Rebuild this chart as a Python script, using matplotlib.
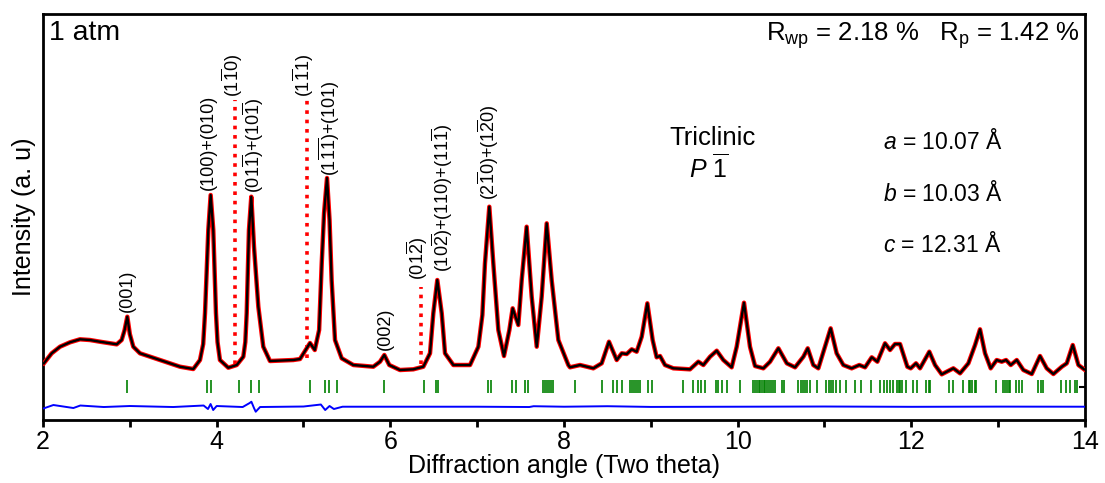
import matplotlib
matplotlib.use("Agg")
import matplotlib.pyplot as plt

plt.rcParams['font.family'] = ['Liberation Sans', 'DejaVu Sans']
plt.rcParams['mathtext.fontset'] = 'custom'
plt.rcParams['mathtext.rm'] = 'Liberation Sans'
plt.rcParams['mathtext.it'] = 'Liberation Sans:italic'
plt.rcParams['mathtext.bf'] = 'Liberation Sans:bold'

# observed / calculated profile (two theta, intensity a.u.)
two_theta = [2.01, 2.10, 2.196, 2.311, 2.426, 2.541, 2.656, 2.849, 2.906, 2.94, 2.971,
             3.0, 3.04, 3.117, 3.347, 3.578, 3.731, 3.808, 3.845, 3.866, 3.904, 3.931, 3.961,
             3.992, 4.01, 4.038, 4.134, 4.231, 4.307, 4.33, 4.346, 4.372, 4.399, 4.430, 4.480,
             4.537, 4.614, 4.883, 4.96, 5.075, 5.13, 5.18, 5.21, 5.237, 5.271, 5.30, 5.324,
             5.363, 5.44, 5.574, 5.804, 5.881, 5.931, 5.988, 6.111, 6.265, 6.38,
             6.457, 6.495, 6.541, 6.592, 6.63, 6.726, 6.918, 7.014, 7.06, 7.09, 7.14,
             7.186, 7.244, 7.309, 7.371, 7.409, 7.474, 7.513, 7.57, 7.628, 7.686,
             7.743, 7.801, 7.858, 7.935, 8.05, 8.069, 8.185, 8.338, 8.434, 8.518,
             8.607, 8.665, 8.722, 8.78, 8.837, 8.895, 8.96, 9.021, 9.067, 9.106,
             9.163, 9.259, 9.451, 9.547, 9.605, 9.682, 9.759, 9.835, 9.931, 9.989,
             10.073, 10.142, 10.2, 10.296, 10.373, 10.469, 10.566, 10.661, 10.757, 10.807,
             10.871, 10.929, 11.006, 11.071, 11.14, 11.217, 11.313, 11.401, 11.467, 11.544,
             11.609, 11.697, 11.755, 11.812, 11.87, 11.954, 11.993, 12.054, 12.1, 12.207,
             12.273, 12.35, 12.484, 12.561, 12.657, 12.734, 12.791, 12.849, 12.914, 12.983,
             13.041, 13.091, 13.145, 13.214, 13.29, 13.387, 13.482, 13.559, 13.636, 13.733,
             13.79, 13.859, 13.924, 13.99]
intensity = [36.7, 46.7, 53.3, 57.7, 60.7, 60.0, 58.3, 55.7, 60.0, 70.0, 83.3,
             66.0, 53.3, 46.7, 40.0, 33.3, 31.0, 40.0, 56.0, 87.0, 170.0, 205.0, 170.0,
             87.0, 58.0, 40.0, 32.3, 35.0, 43.3, 58.0, 87.0, 170.0, 203.3, 153.3, 93.3,
             53.3, 39.0, 40.0, 41.0, 57.0, 50.0, 70.0, 136.7, 187.0, 222.0, 180.0, 120.0,
             60.0, 41.7, 35.0, 33.3, 38.3, 45.0, 35.0, 30.0, 30.7, 33.3,
             46.7, 86.7, 120.0, 86.7, 46.7, 35.0, 35.0, 53.3, 85.0, 136.7, 193.3,
             136.7, 70.0, 44.0, 70.0, 91.7, 75.0, 120.0, 173.3, 103.3, 53.3,
             103.3, 176.7, 120.0, 60.0, 35.0, 32.7, 35.0, 31.7, 36.7, 58.3,
             40.0, 46.7, 46.0, 50.7, 48.3, 63.3, 96.7, 60.0, 42.7, 44.0,
             35.0, 31.7, 30.7, 38.3, 35.0, 43.3, 49.3, 40.0, 32.7, 53.3,
             97.3, 53.3, 34.0, 31.7, 38.3, 51.7, 36.7, 32.7, 43.3, 51.7,
             35.0, 31.7, 53.3, 71.7, 46.7, 35.0, 31.7, 35.0, 32.7, 42.7,
             38.3, 56.7, 50.0, 56.0, 56.0, 33.3, 31.7, 36.7, 31.7, 48.3,
             35.0, 25.7, 31.7, 26.7, 36.7, 55.0, 70.7, 46.7, 31.7, 40.0,
             38.3, 40.0, 35.0, 40.0, 30.0, 26.0, 44.0, 31.7, 26.0, 33.3,
             36.7, 55.0, 35.0, 30.7]

# difference curve (obs - calc, offset)
diff_theta = [2.01, 2.12, 2.35, 2.43, 2.7, 3.0, 3.5, 3.85, 3.9, 3.93, 3.96, 4.0,
              4.3, 4.38, 4.4, 4.43, 4.45, 4.5, 5.0, 5.2, 5.25, 5.3, 5.35, 5.45,
              6.0, 7.0, 7.6, 7.65, 8.0, 8.5, 9.0, 10.0, 11.0, 12.0, 13.0, 14.0]
diff_int = [-8.3, -5.0, -8.0, -5.5, -7.0, -6.0, -7.0, -5.5, -9.0, -4.0, -10.0, -6.0,
            -7.0, -3.0, -1.7, -8.0, -11.7, -7.0, -6.5, -4.5, -10.0, -6.0, -9.0, -6.7,
            -6.7, -6.7, -7.0, -6.2, -6.7, -6.2, -6.9, -6.7, -6.5, -6.8, -6.6, -6.7]

# Bragg reflection positions
bragg = [2.964, 3.885, 3.931, 4.257, 4.392, 4.484, 5.075, 5.251, 5.289, 5.389,
         5.927, 6.388, 6.526, 6.549, 7.128, 7.155, 7.397, 7.447, 7.55, 7.585,
         7.755, 7.78, 7.805, 7.83, 7.855, 7.877, 8.127, 8.434, 8.565, 8.611,
         8.673, 8.76, 8.783, 8.806, 8.83, 8.853, 8.876, 8.971, 9.01, 9.374,
         9.489, 9.547, 9.574, 9.624, 9.747, 9.777, 9.816, 9.874, 10.027, 10.18,
         10.2, 10.22, 10.24, 10.26, 10.28, 10.30, 10.32, 10.34, 10.36, 10.38,
         10.41, 10.43, 10.507, 10.534, 10.70, 10.726, 10.75, 10.776, 10.80, 10.834,
         10.91, 11.02, 11.05, 11.07, 11.1, 11.13, 11.18, 11.25, 11.35, 11.42,
         11.54, 11.64, 11.68, 11.72, 11.755, 11.79, 11.84, 11.86, 11.875, 11.89,
         11.94, 12.02, 12.07, 12.17, 12.2, 12.22, 12.43, 12.48, 12.6, 12.66,
         12.68, 12.7, 12.73, 12.75, 12.98, 13.06, 13.08, 13.1, 13.12, 13.14,
         13.2, 13.24, 13.27, 13.46, 13.49, 13.52, 13.72, 13.78, 13.83, 13.88, 13.91]

# Miller index labels: position, bottom of text, label
hkl_x = [2.97, 3.90, 4.18, 4.42, 5.00, 5.30, 5.94, 6.31, 6.60, 7.13]
hkl_y = [88, 210, 303, 207, 303, 224, 50, 120, 128, 200]
hkl_text = ['(001)',
            '(100)+(010)',
            r'(1$\overline{1}$0)',
            r'(01$\overline{1}$)+(10$\overline{1}$)',
            r'(1$\overline{1}$1)',
            r'(1$\overline{11}$)+(101)',
            '(002)',
            r'(01$\overline{2}$)',
            r'(10$\overline{2}$)+(110)+(11$\overline{1}$)',
            r'(2$\overline{1}$0)+(1$\overline{2}$0)']

# red dotted markers for weak/absent reflections
mark_x = [4.21, 5.04, 6.35]
mark_top = [300, 300, 113]
mark_bottom = [36, 42, 36]

fig = plt.figure(figsize=(11.05, 4.83), dpi=100)
ax = fig.add_axes([0.0389, 0.1304, 0.9430, 0.8406])

ax.plot(two_theta, intensity, color='#FF0000', lw=3.2, solid_joinstyle='round', zorder=3)
ax.plot(two_theta, intensity, color='black', lw=1.7, solid_joinstyle='round', zorder=4)
ax.plot(diff_theta, diff_int, color='#0000FF', lw=1.4, zorder=3)
ax.vlines(bragg, 7, 20, color='#008000', lw=1.2, zorder=2)
for i in range(len(mark_x)):
    ax.plot([mark_x[i], mark_x[i]], [mark_bottom[i], mark_top[i]], color='#FF0000',
            lw=2.6, linestyle=(0, (1, 1.6)), zorder=2)

for i in range(len(hkl_x)):
    ax.text(hkl_x[i], hkl_y[i], hkl_text[i], rotation=90, ha='center', va='bottom',
            fontsize=13)

ax.text(0.006, 0.985, '1 atm', transform=ax.transAxes, ha='left', va='top', fontsize=20.5)
ax.text(0.995, 0.985, r'R$_{\mathregular{wp}}$ = 2.18 %   R$_{\mathregular{p}}$ = 1.42 %',
        transform=ax.transAxes, ha='right', va='top', fontsize=18.5)
ax.text(9.71, 250, 'Triclinic', ha='center', va='bottom', fontsize=18.5)
ax.text(9.67, 217, r'$P\ \overline{\mathit{1}}$', ha='center', va='bottom', fontsize=18)
ax.text(11.67, 251, r'$a$ = 10.07 Å', ha='left', va='baseline', fontsize=16.5)
ax.text(11.67, 199, r'$b$ = 10.03 Å', ha='left', va='baseline', fontsize=16.5)
ax.text(11.67, 148, r'$c$ = 12.31 Å', ha='left', va='baseline', fontsize=16.5)

ax.set_xlim(2, 14)
ax.set_ylim(-20, 386)
ax.set_xticks([2, 4, 6, 8, 10, 12, 14])
ax.set_xticks([3, 5, 7, 9, 11, 13], minor=True)
ax.tick_params(axis='x', which='both', direction='out', length=5, width=2, labelsize=18, pad=2)
ax.yaxis.set_ticks_position('right')
ax.set_yticks([13])
ax.tick_params(axis='y', direction='in', length=4, width=1.5, labelright=False)
for s in ax.spines.values():
    s.set_linewidth(2)

ax.set_xlabel('Diffraction angle (Two theta)', fontsize=18, labelpad=0)
ax.set_ylabel('Intensity (a. u)', fontsize=18, labelpad=5)
ax.yaxis.set_label_position('left')

plt.savefig('out.png', dpi=100)
